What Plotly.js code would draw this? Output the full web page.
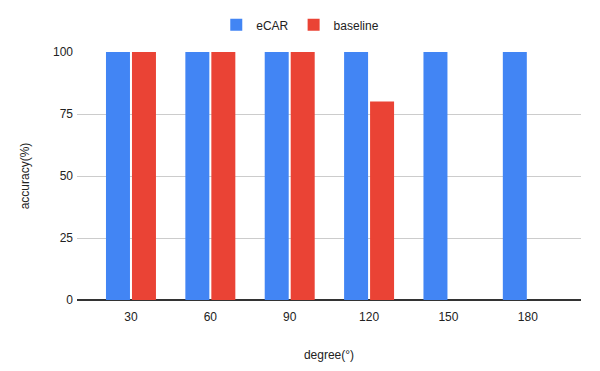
<!DOCTYPE html>
<html>
<head>
<meta charset="utf-8">
<script src="https://cdn.plot.ly/plotly-3.0.1.min.js"></script>
<style>html,body{margin:0;padding:0;background:#fff;}#chart{width:600px;height:371px;}</style>
</head>
<body>
<div id="chart"></div>
<script>
const categories = ["30", "60", "90", "120", "150", "180"];
const ecarValues = [100, 100, 100, 100, 100, 100];
const baselineValues = [100, 100, 100, 80, 0, 0];
const yTicks = [0, 25, 50, 75, 100];

const font = {family: "Liberation Sans, Arial, sans-serif", size: 12, color: "#222"};

const traces = [
  {type: "bar", name: "eCAR", x: categories, y: ecarValues, marker: {color: "#4285F4"}},
  {type: "bar", name: "baseline", x: categories, y: baselineValues, marker: {color: "#EA4335"}}
];

const layout = {
  width: 600, height: 371,
  margin: {l: 77, r: 19, t: 52, b: 71, pad: 0},
  paper_bgcolor: "#fff", plot_bgcolor: "#fff",
  font: font,
  barmode: "group",
  bargap: 0.345,
  bargroupgap: 0.077,
  showlegend: true,
  legend: {orientation: "h", x: 0.443, xanchor: "center", yref: "container", y: 0.933, yanchor: "middle",
           font: {family: font.family, size: 12, color: "#222"}, itemwidth: 30},
  xaxis: {
    type: "category",
    range: [-0.68, 5.67],
    showgrid: false,
    showline: false,
    zeroline: false,
    ticks: "",
    ticklabelstandoff: 8,
    tickfont: font,
    automargin: false,
    title: {text: "degree(°)", font: font, standoff: 27}
  },
  yaxis: {
    range: [0, 100],
    tickvals: yTicks,
    ticktext: yTicks.map(String),
    showgrid: true,
    gridcolor: "#cccccc",
    gridwidth: 1,
    zeroline: true,
    zerolinecolor: "#333333",
    zerolinewidth: 1.5,
    showline: false,
    ticks: "",
    ticklabelstandoff: 3,
    tickfont: font,
    automargin: false,
    title: {text: "accuracy(%)", font: font, standoff: 20}
  }
};

Plotly.newPlot("chart", traces, layout, {displayModeBar: false, staticPlot: true});
</script>
</body>
</html>
